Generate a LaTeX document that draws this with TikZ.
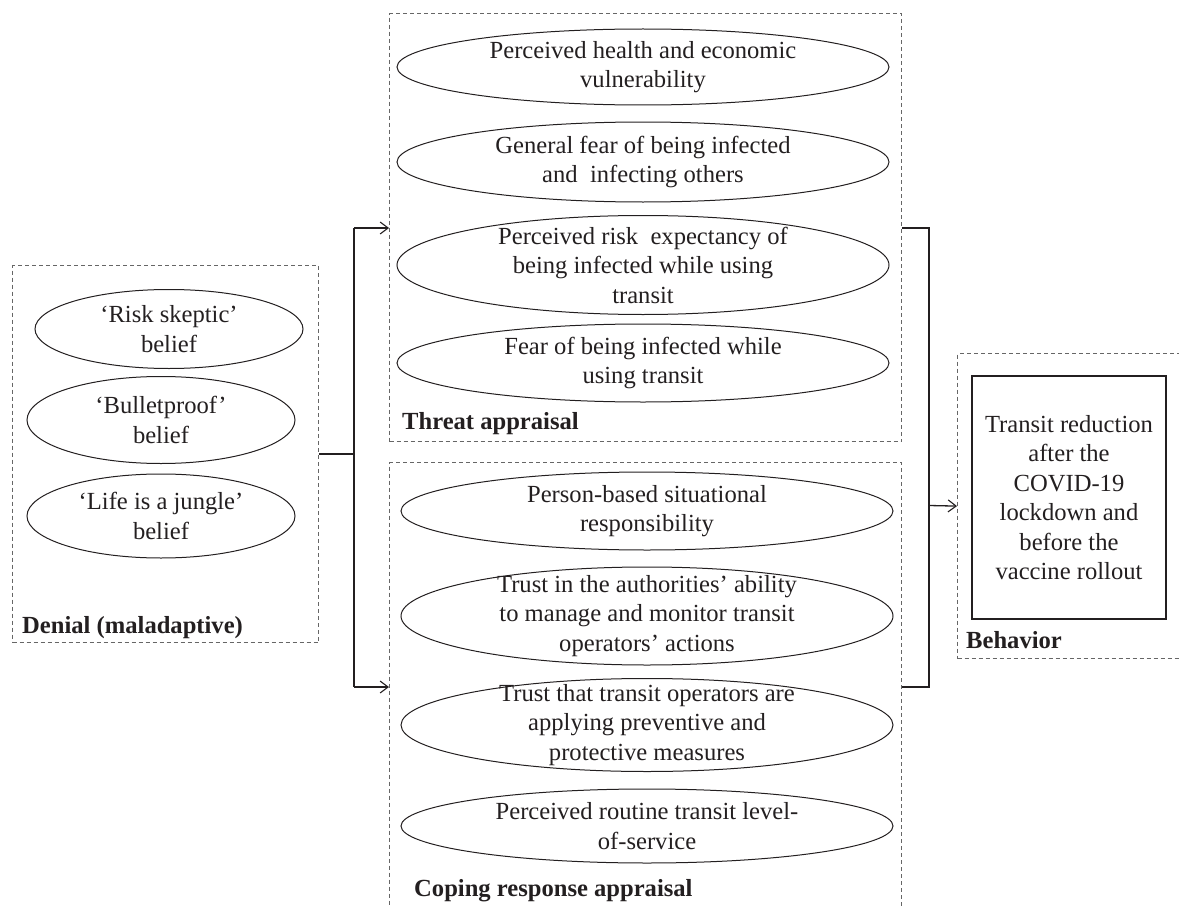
\documentclass[tikz,border=0pt]{standalone}
\usepackage{fontspec}
\setmainfont{Liberation Serif}
\usetikzlibrary{shapes.geometric,arrows.meta}
\definecolor{ink}{HTML}{231F20}
\definecolor{dashgrey}{HTML}{666666}
\begin{document}
\begin{tikzpicture}[x=1pt,y=-1pt,
  ellshape/.style={draw=ink, line width=1.0pt, ellipse, inner sep=0pt},
  txt/.style={text=ink, align=center, inner sep=0pt, font=\fontsize{24.6}{29.5}\selectfont},
  dbox/.style={draw=dashgrey, dash pattern=on 4pt off 3pt, line width=1.2pt, inner sep=0pt},
  lbl/.style={text=ink, anchor=base west, inner sep=0pt, font=\fontsize{24.6}{29.5}\selectfont\bfseries},
  conn/.style={line width=1.3pt, draw=ink},
  arr/.style={conn, -{Straight Barb[length=8pt,width=12pt,line width=1.1pt]}}]
\useasboundingbox (0,0) rectangle (1179,907);

% ---------- group boxes ----------
\node[dbox, minimum width=306pt, minimum height=377pt, anchor=north west] (den) at (12,265) {};
\node[dbox, minimum width=512pt, minimum height=428pt, anchor=north west] (threat) at (389,13) {};
\node[dbox, minimum width=512pt, minimum height=470pt, anchor=north west] (coping) at (389,462) {};
\node[dbox, minimum width=260pt, minimum height=305pt, anchor=north west] (behbox) at (957,353) {};

% ---------- denial ellipses ----------
\node[ellshape, minimum width=268pt, minimum height=79pt] (d1) at (169,329) {};
\node[txt] at (d1) {‘Risk skeptic’\\belief};
\node[ellshape, minimum width=268pt, minimum height=87pt] (d2) at (161,420) {};
\node[txt] at (d2) {‘Bulletproof’\\belief};
\node[ellshape, minimum width=268pt, minimum height=84pt] (d3) at (161,516) {};
\node[txt] at (d3) {‘Life is a jungle’\\belief};
\node[lbl] (denlbl) at (22,633) {Denial (maladaptive)};

% ---------- threat ellipses ----------
\node[ellshape, minimum width=492pt, minimum height=76pt] (t1) at (643,67) {};
\node[txt] at (t1) {Perceived health and economic\\vulnerability};
\node[ellshape, minimum width=492pt, minimum height=80pt] (t2) at (643,162) {};
\node[txt] at (t2) {General fear of being infected\\and\ \ infecting others};
\node[ellshape, minimum width=492pt, minimum height=99pt] (t3) at (643,265) {};
\node[txt] at (t3) {Perceived risk\ \ expectancy of\\being infected while using\\transit};
\node[ellshape, minimum width=492pt, minimum height=78pt] (t4) at (643,363) {};
\node[txt] at (t4) {Fear of being infected while\\using transit};
\node[lbl] (thrlbl) at (402,429) {Threat appraisal};

% ---------- coping ellipses ----------
\node[ellshape, minimum width=492pt, minimum height=78pt] (c1) at (647,511) {};
\node[txt] at (c1) {Person-based situational\\responsibility};
\node[ellshape, minimum width=492pt, minimum height=98pt] (c2) at (647,616) {};
\node[txt] at (c2) {Trust in the authorities’ ability\\to manage and monitor transit\\operators’ actions};
\node[ellshape, minimum width=492pt, minimum height=93pt] (c3) at (647,725) {};
\node[txt] at (c3) {Trust that transit operators are\\applying preventive and\\protective measures};
\node[ellshape, minimum width=492pt, minimum height=74pt] (c4) at (647,826) {};
\node[txt] at (c4) {Perceived routine transit level-\\of-service};
\node[lbl] (coplbl) at (414,896) {Coping response appraisal};

% ---------- behavior ----------
\node[draw=ink, line width=1.1pt, minimum width=194pt, minimum height=243pt, txt] (beh) at (1069,497.5)
  {Transit reduction\\after the\\COVID-19\\lockdown and\\before the\\vaccine rollout};
\node[lbl] (behlbl) at (966,648) {Behavior};

% ---------- connectors ----------
\coordinate (la) at (354,228);
\coordinate (lb) at (354,687);
\coordinate (ra) at (929,228);
\coordinate (rb) at (929,687);
\coordinate (rm) at (929,505.5);
\draw[conn] (den.east) -- (den.east -| la);
\draw[conn] (la) -- (lb);
\draw[arr] (la) -- (la -| threat.west);
\draw[arr] (lb) -- (lb -| coping.west);
\draw[conn] (ra -| threat.east) -- (ra) -- (rb) -- (rb -| coping.east);
\draw[arr] (rm) -- (behbox.west);
\end{tikzpicture}
\end{document}
